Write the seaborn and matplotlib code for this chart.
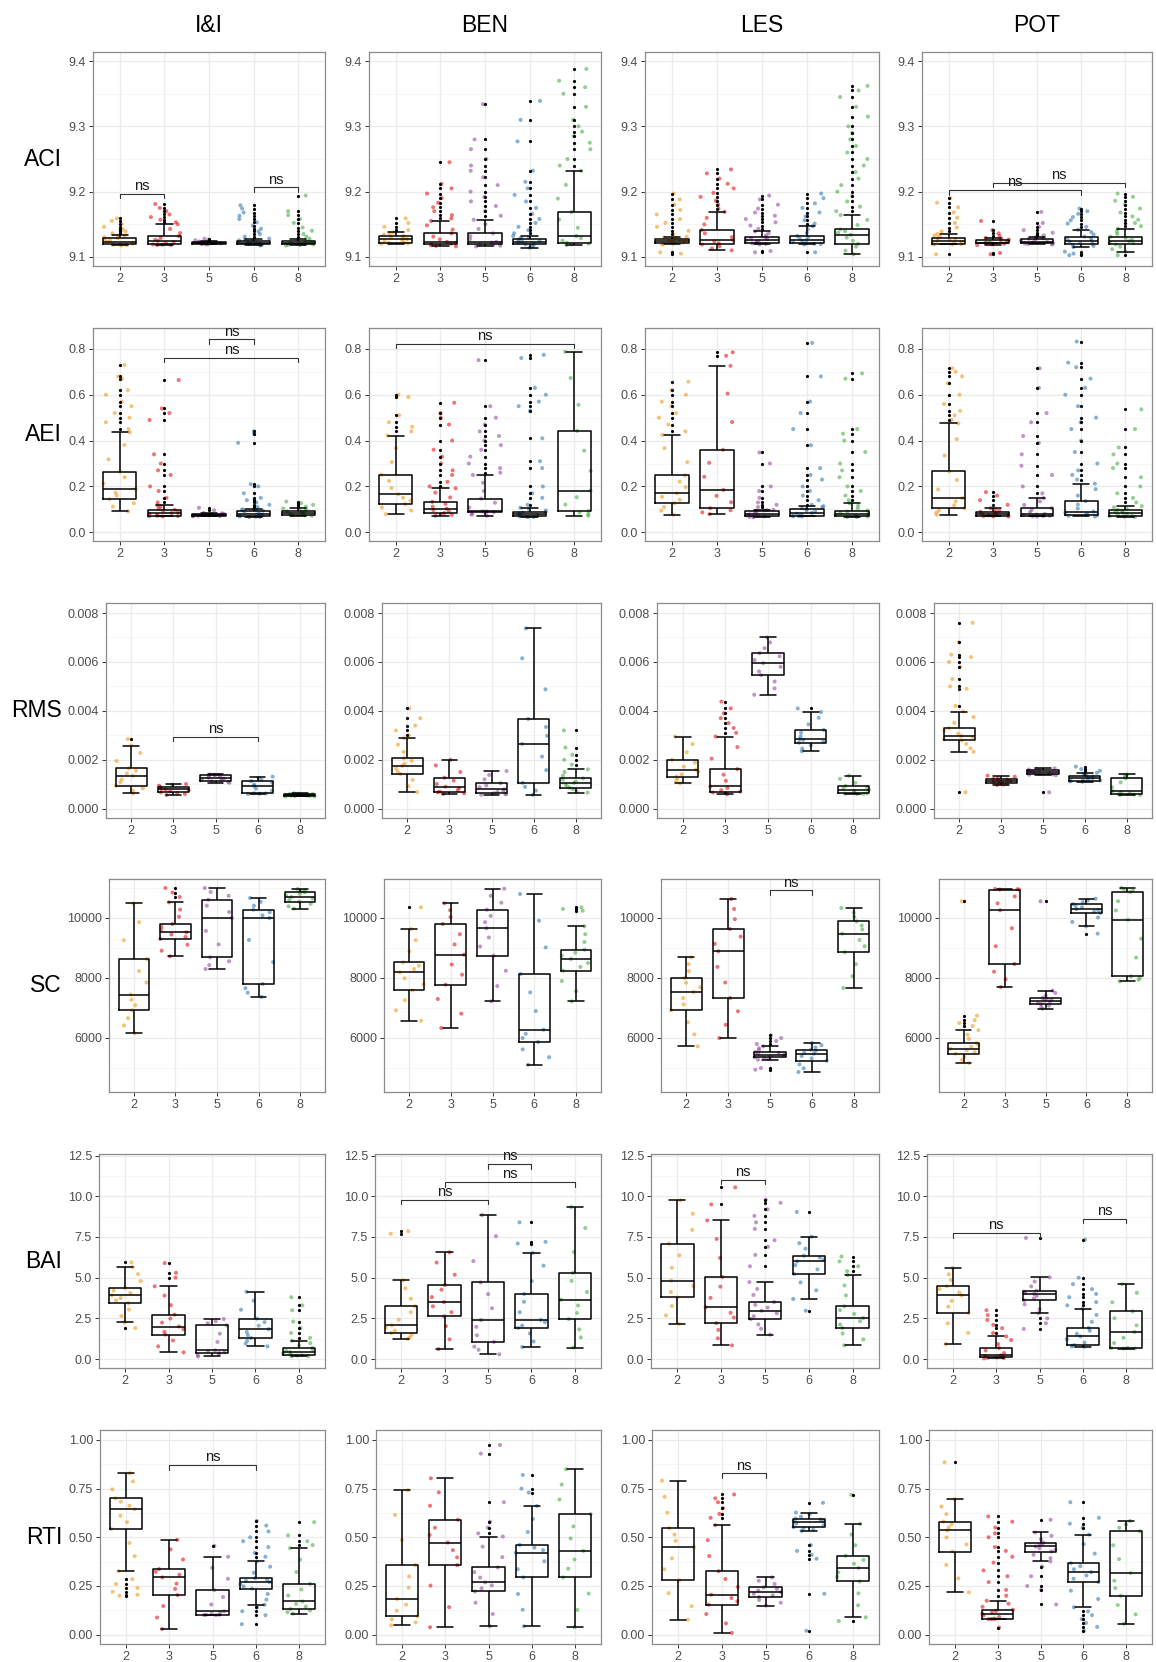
import numpy as np
import pandas as pd
import matplotlib
matplotlib.use("Agg")
import matplotlib.pyplot as plt
from matplotlib.ticker import FixedLocator
import seaborn as sns

# ---------------- categories ----------------
groups = ['2', '3', '5', '6', '8']
sites = ['I&I', 'BEN', 'LES', 'POT']
metrics = ['ACI', 'AEI', 'RMS', 'SC', 'BAI', 'RTI']
palette = {'2': '#F29A1E', '3': '#E41A1C', '5': '#984EA3', '6': '#377EB8', '8': '#4DAF4A'}

# ---------------- data ----------------
# each panel: one list per group (2,3,5,6,8) of values inside the whiskers,
# plus a list of outlying values per group
aci_ii = [
    [9.1175, 9.1181, 9.1186, 9.1190, 9.1203, 9.1219, 9.1230, 9.1248, 9.1266, 9.1287, 9.1301, 9.1318, 9.1330],
    [9.1180, 9.1183, 9.1188, 9.1190, 9.1212, 9.1228, 9.1246, 9.1262, 9.1290, 9.1318, 9.1365, 9.1428, 9.1500],
    [9.1190, 9.1194, 9.1198, 9.1200, 9.1203, 9.1208, 9.1210, 9.1215, 9.1219, 9.1225, 9.1229, 9.1234, 9.1240],
    [9.1175, 9.1180, 9.1186, 9.1190, 9.1196, 9.1204, 9.1210, 9.1219, 9.1231, 9.1240, 9.1252, 9.1266, 9.1280],
    [9.1175, 9.1179, 9.1185, 9.1190, 9.1198, 9.1203, 9.1210, 9.1221, 9.1229, 9.1240, 9.1249, 9.1263, 9.1280],
]
aci_ii_out = [
    [9.136, 9.139, 9.142, 9.146, 9.150, 9.155, 9.159],
    [9.153, 9.157, 9.161, 9.165, 9.170, 9.175, 9.181],
    [9.1255, 9.1265, 9.1277],
    [9.131, 9.135, 9.139, 9.143, 9.148, 9.153, 9.158, 9.163, 9.168, 9.174, 9.179],
    [9.131, 9.135, 9.140, 9.145, 9.152, 9.158, 9.164, 9.170, 9.194],
]
aci_ben = [
    [9.1200, 9.1206, 9.1213, 9.1220, 9.1236, 9.1255, 9.1270, 9.1286, 9.1303, 9.1320, 9.1341, 9.1356, 9.1374],
    [9.1160, 9.1168, 9.1179, 9.1190, 9.1204, 9.1216, 9.1230, 9.1268, 9.1312, 9.1360, 9.1418, 9.1483, 9.1550],
    [9.1160, 9.1171, 9.1180, 9.1190, 9.1201, 9.1219, 9.1230, 9.1272, 9.1318, 9.1360, 9.1428, 9.1502, 9.1570],
    [9.1140, 9.1158, 9.1176, 9.1190, 9.1204, 9.1216, 9.1230, 9.1243, 9.1262, 9.1280, 9.1294, 9.1306, 9.1320],
    [9.1180, 9.1191, 9.1202, 9.1215, 9.1248, 9.1287, 9.1320, 9.1446, 9.1572, 9.1687, 9.1893, 9.2104, 9.2320],
]
aci_ben_out = [
    [9.141, 9.146, 9.152, 9.159],
    [9.159, 9.164, 9.170, 9.176, 9.183, 9.190, 9.197, 9.205, 9.212, 9.245],
    [9.163, 9.170, 9.178, 9.185, 9.192, 9.200, 9.210, 9.222, 9.232, 9.240, 9.250, 9.265, 9.280, 9.334],
    [9.136, 9.141, 9.146, 9.152, 9.158, 9.166, 9.175, 9.185, 9.195, 9.205, 9.215, 9.232, 9.277, 9.310, 9.339],
    [9.240, 9.250, 9.265, 9.275, 9.285, 9.292, 9.300, 9.310, 9.330, 9.350, 9.360, 9.370, 9.388],
]
aci_les = [
    [9.1190, 9.1194, 9.1201, 9.1205, 9.1218, 9.1229, 9.1240, 9.1251, 9.1266, 9.1277, 9.1287, 9.1299, 9.1310],
    [9.1100, 9.1128, 9.1162, 9.1190, 9.1210, 9.1236, 9.1256, 9.1304, 9.1361, 9.1410, 9.1497, 9.1598, 9.1690],
    [9.1190, 9.1199, 9.1208, 9.1215, 9.1230, 9.1241, 9.1256, 9.1271, 9.1284, 9.1300, 9.1328, 9.1362, 9.1390],
    [9.1190, 9.1196, 9.1201, 9.1205, 9.1224, 9.1240, 9.1260, 9.1279, 9.1302, 9.1320, 9.1368, 9.1421, 9.1470],
    [9.1040, 9.1096, 9.1158, 9.1200, 9.1246, 9.1295, 9.1340, 9.1366, 9.1394, 9.1420, 9.1488, 9.1567, 9.1640],
]
aci_les_out = [
    [9.105, 9.107, 9.135, 9.140, 9.146, 9.152, 9.158, 9.165, 9.172, 9.180, 9.188, 9.197],
    [9.174, 9.180, 9.186, 9.192, 9.198, 9.205, 9.212, 9.220, 9.228, 9.234],
    [9.107, 9.109, 9.143, 9.148, 9.153, 9.158, 9.163, 9.168, 9.174, 9.180, 9.188, 9.194],
    [9.107, 9.151, 9.156, 9.162, 9.168, 9.175, 9.182, 9.190, 9.197],
    [9.170, 9.177, 9.185, 9.193, 9.200, 9.210, 9.220, 9.230, 9.240, 9.250, 9.260, 9.270, 9.280,
     9.290, 9.300, 9.315, 9.330, 9.345, 9.355, 9.362],
]
aci_pot = [
    [9.1190, 9.1193, 9.1198, 9.1200, 9.1216, 9.1231, 9.1246, 9.1259, 9.1274, 9.1287, 9.1309, 9.1328, 9.1350],
    [9.1180, 9.1191, 9.1199, 9.1205, 9.1209, 9.1216, 9.1220, 9.1231, 9.1245, 9.1256, 9.1266, 9.1279, 9.1290],
    [9.1190, 9.1196, 9.1201, 9.1205, 9.1212, 9.1223, 9.1230, 9.1247, 9.1262, 9.1277, 9.1284, 9.1293, 9.1300],
    [9.1150, 9.1168, 9.1184, 9.1200, 9.1216, 9.1234, 9.1250, 9.1271, 9.1289, 9.1310, 9.1343, 9.1381, 9.1415],
    [9.1080, 9.1118, 9.1157, 9.1190, 9.1208, 9.1224, 9.1240, 9.1262, 9.1288, 9.1310, 9.1352, 9.1388, 9.1430],
]
aci_pot_out = [
    [9.104, 9.139, 9.145, 9.152, 9.160, 9.168, 9.176, 9.183, 9.190],
    [9.104, 9.106, 9.132, 9.136, 9.141, 9.155],
    [9.133, 9.137, 9.141, 9.146, 9.152, 9.169],
    [9.1026, 9.105, 9.108, 9.146, 9.151, 9.156, 9.161, 9.166, 9.170, 9.174],
    [9.1026, 9.147, 9.152, 9.157, 9.162, 9.168, 9.174, 9.180, 9.186, 9.192, 9.197],
]

aei_ii = [
    [0.091, 0.112, 0.127, 0.144, 0.160, 0.173, 0.189, 0.213, 0.240, 0.264, 0.318, 0.381, 0.436],
    [0.069, 0.070, 0.071, 0.072, 0.076, 0.081, 0.084, 0.088, 0.093, 0.098, 0.103, 0.111, 0.117],
    [0.070, 0.0706, 0.0714, 0.072, 0.0731, 0.0739, 0.075, 0.0762, 0.0778, 0.079, 0.0806, 0.0824, 0.084],
    [0.066, 0.067, 0.068, 0.069, 0.072, 0.075, 0.078, 0.083, 0.089, 0.094, 0.096, 0.098, 0.100],
    [0.072, 0.0736, 0.0755, 0.077, 0.0795, 0.0824, 0.085, 0.0882, 0.0912, 0.094, 0.0975, 0.1006, 0.104],
]
aei_ii_out = [
    [0.45, 0.48, 0.50, 0.52, 0.55, 0.57, 0.60, 0.62, 0.67, 0.68, 0.73],
    [0.13, 0.15, 0.18, 0.20, 0.25, 0.27, 0.30, 0.34, 0.49, 0.52, 0.54, 0.664],
    [0.096, 0.107],
    [0.11, 0.12, 0.13, 0.14, 0.15, 0.17, 0.20, 0.21, 0.39, 0.43, 0.44],
    [0.112, 0.120, 0.127, 0.134],
]
aei_ben = [
    [0.079, 0.095, 0.109, 0.123, 0.138, 0.151, 0.166, 0.193, 0.224, 0.251, 0.306, 0.367, 0.422],
    [0.072, 0.076, 0.080, 0.084, 0.091, 0.097, 0.103, 0.112, 0.124, 0.133, 0.152, 0.173, 0.192],
    [0.072, 0.077, 0.082, 0.088, 0.089, 0.090, 0.091, 0.108, 0.129, 0.147, 0.180, 0.216, 0.250],
    [0.066, 0.067, 0.068, 0.069, 0.072, 0.075, 0.078, 0.082, 0.086, 0.0895, 0.095, 0.101, 0.107],
    [0.072, 0.079, 0.086, 0.0924, 0.121, 0.153, 0.182, 0.268, 0.356, 0.442, 0.556, 0.673, 0.787],
]
aei_ben_out = [
    [0.44, 0.46, 0.48, 0.51, 0.59, 0.60],
    [0.20, 0.22, 0.25, 0.27, 0.30, 0.33, 0.36, 0.40, 0.47, 0.50, 0.52, 0.565],
    [0.26, 0.28, 0.30, 0.33, 0.36, 0.38, 0.40, 0.42, 0.44, 0.47, 0.50, 0.55, 0.751],
    [0.12, 0.15, 0.17, 0.20, 0.28, 0.31, 0.41, 0.53, 0.55, 0.57, 0.60, 0.63, 0.76, 0.774],
    [],
]
aei_les = [
    [0.0765, 0.094, 0.110, 0.127, 0.142, 0.155, 0.170, 0.197, 0.221, 0.248, 0.306, 0.367, 0.425],
    [0.079, 0.087, 0.096, 0.105, 0.131, 0.159, 0.185, 0.242, 0.303, 0.360, 0.481, 0.605, 0.726],
    [0.066, 0.067, 0.068, 0.069, 0.072, 0.075, 0.078, 0.083, 0.089, 0.094, 0.0955, 0.0968, 0.098],
    [0.069, 0.070, 0.071, 0.072, 0.076, 0.081, 0.085, 0.090, 0.096, 0.101, 0.105, 0.110, 0.114],
    [0.066, 0.067, 0.068, 0.069, 0.073, 0.076, 0.080, 0.085, 0.090, 0.095, 0.104, 0.116, 0.126],
]
aei_les_out = [
    [0.44, 0.47, 0.50, 0.52, 0.55, 0.57, 0.60, 0.62, 0.657],
    [0.77, 0.785],
    [0.11, 0.12, 0.13, 0.15, 0.18, 0.20, 0.30, 0.348],
    [0.12, 0.14, 0.16, 0.18, 0.20, 0.23, 0.25, 0.28, 0.38, 0.45, 0.52, 0.57, 0.68, 0.826],
    [0.14, 0.16, 0.18, 0.20, 0.24, 0.27, 0.30, 0.35, 0.40, 0.43, 0.45, 0.67, 0.693],
]
aei_pot = [
    [0.0765, 0.086, 0.095, 0.104, 0.118, 0.135, 0.149, 0.187, 0.228, 0.266, 0.335, 0.406, 0.475],
    [0.069, 0.070, 0.071, 0.072, 0.074, 0.077, 0.079, 0.082, 0.086, 0.0895, 0.095, 0.100, 0.105],
    [0.069, 0.070, 0.071, 0.072, 0.075, 0.077, 0.080, 0.088, 0.097, 0.105, 0.119, 0.135, 0.149],
    [0.069, 0.0715, 0.074, 0.0765, 0.081, 0.086, 0.090, 0.104, 0.121, 0.136, 0.160, 0.188, 0.212],
    [0.066, 0.068, 0.070, 0.072, 0.076, 0.081, 0.085, 0.089, 0.094, 0.098, 0.103, 0.109, 0.114],
]
aei_pot_out = [
    [0.49, 0.51, 0.53, 0.56, 0.60, 0.65, 0.68, 0.70, 0.715],
    [0.12, 0.14, 0.16, 0.175],
    [0.17, 0.20, 0.25, 0.29, 0.34, 0.39, 0.42, 0.48, 0.52, 0.63, 0.715],
    [0.23, 0.25, 0.27, 0.30, 0.35, 0.40, 0.45, 0.48, 0.50, 0.55, 0.60, 0.63, 0.67, 0.72, 0.74, 0.832],
    [0.13, 0.15, 0.17, 0.20, 0.24, 0.28, 0.30, 0.34, 0.37, 0.45, 0.536],
]

# RMS lists are written in thousandths
RMS_UNIT = 1e-3
rms_ii = [
    [0.63, 0.74, 0.83, 0.94, 1.09, 1.20, 1.35, 1.44, 1.56, 1.65, 1.95, 2.28, 2.58],
    [0.56, 0.60, 0.64, 0.67, 0.71, 0.76, 0.79, 0.82, 0.87, 0.90, 0.94, 0.98, 1.01],
    [1.06, 1.09, 1.12, 1.15, 1.19, 1.23, 1.27, 1.30, 1.34, 1.38, 1.385, 1.39, 1.40],
    [0.60, 0.61, 0.62, 0.63, 0.74, 0.82, 0.93, 0.99, 1.07, 1.13, 1.19, 1.26, 1.31],
    [0.50, 0.505, 0.515, 0.52, 0.53, 0.54, 0.55, 0.56, 0.575, 0.59, 0.60, 0.615, 0.63],
]
rms_ii_out = [[2.85], [], [], [], []]
rms_ben = [
    [0.68, 0.92, 1.18, 1.42, 1.52, 1.64, 1.75, 1.84, 1.96, 2.06, 2.32, 2.62, 2.88],
    [0.60, 0.63, 0.67, 0.70, 0.76, 0.84, 0.90, 1.01, 1.15, 1.27, 1.50, 1.77, 2.00],
    [0.57, 0.59, 0.61, 0.63, 0.69, 0.73, 0.79, 0.88, 0.95, 1.04, 1.20, 1.38, 1.54],
    [0.57, 0.74, 0.89, 1.06, 1.58, 2.13, 2.65, 2.98, 3.34, 3.67, 4.88, 6.15, 7.37],
    [0.66, 0.72, 0.80, 0.86, 0.92, 1.00, 1.06, 1.11, 1.19, 1.24, 1.35, 1.50, 1.61],
]
rms_ben_out = [[3.0, 3.2, 3.4, 3.7, 4.1], [], [], [], [1.8, 2.0, 2.2, 2.5, 3.2]]
rms_les = [
    [1.04, 1.12, 1.23, 1.31, 1.40, 1.51, 1.60, 1.72, 1.88, 2.00, 2.31, 2.64, 2.95],
    [0.59, 0.63, 0.66, 0.70, 0.76, 0.85, 0.91, 1.14, 1.39, 1.62, 2.05, 2.52, 2.95],
    [4.66, 4.92, 5.20, 5.46, 5.61, 5.80, 5.95, 6.08, 6.23, 6.36, 6.56, 6.80, 7.00],
    [2.35, 2.46, 2.59, 2.70, 2.74, 2.81, 2.85, 2.96, 3.11, 3.22, 3.45, 3.72, 3.95],
    [0.60, 0.61, 0.62, 0.63, 0.67, 0.73, 0.77, 0.81, 0.89, 0.93, 1.06, 1.22, 1.35],
]
rms_les_out = [[], [3.1, 3.3, 3.5, 3.7, 3.9, 4.1, 4.38], [], [4.1], []]
rms_pot = [
    [2.33, 2.47, 2.65, 2.79, 2.84, 2.93, 2.98, 3.07, 3.20, 3.29, 3.51, 3.75, 3.97],
    [0.97, 0.99, 1.02, 1.04, 1.07, 1.10, 1.13, 1.16, 1.19, 1.22, 1.26, 1.31, 1.35],
    [1.37, 1.39, 1.40, 1.42, 1.45, 1.47, 1.50, 1.53, 1.55, 1.58, 1.60, 1.63, 1.65],
    [1.10, 1.12, 1.13, 1.15, 1.18, 1.21, 1.24, 1.27, 1.31, 1.34, 1.38, 1.43, 1.47],
    [0.56, 0.57, 0.58, 0.59, 0.63, 0.68, 0.72, 0.88, 1.08, 1.24, 1.29, 1.35, 1.40],
]
rms_pot_out = [[0.67, 4.2, 4.9, 5.0, 5.3, 5.8, 6.0, 6.2, 6.3, 6.8, 7.6], [], [0.67], [1.55, 1.62, 1.72], []]

sc_ii = [
    [6156, 6420, 6660, 6922, 7090, 7280, 7450, 7850, 8230, 8633, 9260, 9860, 10489],
    [8722, 8910, 9110, 9300, 9370, 9450, 9522, 9610, 9710, 9800, 10040, 10280, 10522],
    [8300, 8430, 8560, 8689, 9120, 9570, 10000, 10200, 10410, 10611, 10740, 10870, 11000],
    [7367, 7510, 7660, 7800, 8530, 9270, 10000, 10090, 10190, 10278, 10410, 10540, 10667],
    [10311, 10390, 10470, 10544, 10600, 10650, 10700, 10750, 10800, 10856, 10890, 10930, 10967],
]
sc_ii_out = [[], [10700, 10850, 11000], [], [], []]
sc_ben = [
    [6578, 6920, 7260, 7589, 7790, 7990, 8189, 8300, 8410, 8522, 8890, 9260, 9633],
    [6333, 6810, 7300, 7778, 8110, 8450, 8778, 9120, 9460, 9800, 10030, 10260, 10489],
    [7222, 7730, 8240, 8744, 9050, 9350, 9656, 9860, 10070, 10278, 10510, 10740, 10978],
    [5111, 5360, 5620, 5867, 6000, 6140, 6278, 6900, 7520, 8133, 9020, 9910, 10800],
    [7222, 7560, 7900, 8244, 8370, 8500, 8633, 8740, 8840, 8944, 9200, 9460, 9722],
]
sc_ben_out = [[10356], [], [], [], [10244, 10300, 10356]]
sc_les = [
    [5722, 6120, 6520, 6922, 7120, 7330, 7533, 7690, 7840, 8000, 8230, 8460, 8689],
    [6000, 6440, 6890, 7333, 7850, 8370, 8889, 9140, 9380, 9633, 9960, 10300, 10633],
    [5278, 5300, 5330, 5356, 5385, 5415, 5444, 5474, 5503, 5533, 5597, 5660, 5722],
    [4867, 4990, 5120, 5244, 5320, 5400, 5478, 5520, 5570, 5611, 5685, 5760, 5833],
    [7667, 8060, 8460, 8856, 9060, 9270, 9478, 9620, 9750, 9889, 10040, 10180, 10333],
]
sc_les_out = [[], [], [4944, 5000, 5800, 5900, 6000, 6089], [], []]
sc_pot = [
    [5167, 5270, 5380, 5478, 5530, 5590, 5644, 5710, 5770, 5833, 5970, 6110, 6256],
    [7700, 7960, 8210, 8467, 9060, 9660, 10256, 10490, 10720, 10944, 10950, 10960, 10967],
    [6978, 7030, 7080, 7133, 7170, 7210, 7244, 7274, 7303, 7333, 7415, 7500, 7578],
    [9722, 9870, 10020, 10167, 10210, 10260, 10300, 10360, 10410, 10467, 10530, 10590, 10644],
    [7889, 7940, 8000, 8056, 8680, 9310, 9944, 10250, 10560, 10867, 10910, 10960, 11000],
]
sc_pot_out = [[6400, 6500, 6600, 6744, 10556], [], [10556], [9478], []]

bai_ii = [
    [2.25, 2.64, 3.04, 3.44, 3.60, 3.75, 3.91, 4.06, 4.21, 4.36, 4.79, 5.22, 5.66],
    [0.41, 0.78, 1.14, 1.50, 1.67, 1.83, 2.00, 2.24, 2.49, 2.73, 3.31, 3.90, 4.47],
    [0.16, 0.23, 0.30, 0.37, 0.42, 0.48, 0.53, 1.05, 1.56, 2.07, 2.20, 2.33, 2.46],
    [0.78, 0.95, 1.12, 1.29, 1.47, 1.66, 1.84, 2.05, 2.27, 2.48, 3.03, 3.59, 4.14],
    [0.16, 0.18, 0.21, 0.23, 0.30, 0.36, 0.43, 0.51, 0.60, 0.68, 0.83, 0.98, 1.13],
]
bai_ii_out = [[1.9, 5.94], [5.0, 5.3, 5.9], [], [], [1.3, 1.6, 1.9, 2.3, 3.0, 3.3, 3.8]]
bai_ben = [
    [1.23, 1.33, 1.49, 1.60, 1.74, 1.93, 2.07, 2.41, 2.88, 3.24, 3.71, 4.35, 4.84],
    [0.61, 1.21, 2.02, 2.62, 2.88, 3.24, 3.50, 3.81, 4.26, 4.55, 5.18, 5.93, 6.56],
    [0.29, 0.57, 0.76, 1.05, 1.46, 1.98, 2.40, 3.12, 3.99, 4.71, 6.02, 7.55, 8.85],
    [0.74, 1.08, 1.57, 1.91, 2.05, 2.27, 2.40, 2.88, 3.52, 4.00, 4.79, 5.74, 6.52],
    [0.70, 1.33, 1.82, 2.46, 2.83, 3.29, 3.65, 4.12, 4.80, 5.29, 6.58, 8.05, 9.34],
]
bai_ben_out = [[7.7, 7.85], [], [], [7.1, 7.2, 8.4], []]
bai_les = [
    [2.17, 2.68, 3.26, 3.79, 4.12, 4.49, 4.82, 5.61, 6.37, 7.09, 7.94, 8.93, 9.75],
    [0.84, 1.27, 1.79, 2.21, 2.55, 2.84, 3.18, 3.76, 4.45, 5.04, 6.21, 7.38, 8.52],
    [1.50, 1.86, 2.13, 2.46, 2.63, 2.81, 2.97, 3.16, 3.33, 3.50, 3.94, 4.31, 4.73],
    [3.69, 4.22, 4.71, 5.23, 5.51, 5.77, 6.00, 6.11, 6.24, 6.35, 6.78, 7.12, 7.52],
    [0.84, 1.21, 1.57, 1.91, 2.12, 2.33, 2.52, 2.77, 3.01, 3.24, 3.91, 4.52, 5.16],
]
bai_les_out = [[], [9.5, 10.55], [5.7, 6.4, 6.9, 7.3, 8.0, 8.4, 8.8, 9.2, 9.6, 9.8], [2.97, 9.04], [5.4, 5.7, 6.0, 6.3]]
bai_pot = [
    [0.92, 1.61, 2.19, 2.83, 3.22, 3.57, 3.91, 4.09, 4.30, 4.47, 4.86, 5.21, 5.59],
    [0.04, 0.06, 0.08, 0.10, 0.14, 0.19, 0.23, 0.37, 0.53, 0.68, 0.92, 1.17, 1.39],
    [2.83, 3.07, 3.36, 3.60, 3.73, 3.88, 4.00, 4.06, 4.14, 4.20, 4.47, 4.76, 5.02],
    [0.75, 0.78, 0.82, 0.85, 1.01, 1.22, 1.39, 1.55, 1.74, 1.91, 2.29, 2.71, 3.09],
    [0.64, 0.65, 0.67, 0.68, 0.98, 1.31, 1.66, 2.07, 2.51, 2.93, 3.49, 4.07, 4.60],
]
bai_pot_out = [[], [1.6, 1.9, 2.1, 2.4, 2.7, 3.0], [1.85, 2.2, 2.5, 7.44], [3.3, 3.5, 3.8, 4.0, 4.3, 4.6, 5.0, 7.34], []]

rti_ii = [
    [0.326, 0.403, 0.471, 0.543, 0.578, 0.611, 0.644, 0.662, 0.683, 0.700, 0.746, 0.787, 0.829],
    [0.029, 0.088, 0.147, 0.203, 0.235, 0.262, 0.294, 0.308, 0.323, 0.337, 0.386, 0.438, 0.487],
    [0.100, 0.101, 0.102, 0.1025, 0.108, 0.114, 0.120, 0.155, 0.193, 0.229, 0.287, 0.343, 0.400],
    [0.154, 0.180, 0.209, 0.236, 0.248, 0.259, 0.270, 0.277, 0.284, 0.290, 0.318, 0.349, 0.376],
    [0.108, 0.116, 0.124, 0.1316, 0.144, 0.158, 0.171, 0.201, 0.232, 0.261, 0.322, 0.385, 0.444],
]
rti_ii_out = [[0.20, 0.205, 0.22, 0.24, 0.26, 0.285], [], [0.456],
              [0.054, 0.10, 0.12, 0.14, 0.40, 0.42, 0.45, 0.48, 0.50, 0.53, 0.56, 0.584],
              [0.46, 0.48, 0.51, 0.578]]
rti_ben = [
    [0.048, 0.063, 0.079, 0.094, 0.123, 0.154, 0.183, 0.241, 0.299, 0.357, 0.486, 0.615, 0.742],
    [0.038, 0.141, 0.252, 0.357, 0.397, 0.434, 0.473, 0.512, 0.549, 0.590, 0.662, 0.731, 0.803],
    [0.043, 0.106, 0.164, 0.222, 0.238, 0.253, 0.268, 0.293, 0.321, 0.345, 0.398, 0.452, 0.504],
    [0.043, 0.128, 0.209, 0.294, 0.336, 0.377, 0.420, 0.434, 0.447, 0.461, 0.527, 0.594, 0.661],
    [0.038, 0.127, 0.211, 0.294, 0.339, 0.386, 0.430, 0.494, 0.556, 0.619, 0.694, 0.771, 0.849],
]
rti_ben_out = [[], [], [0.52, 0.55, 0.58, 0.68, 0.93, 0.974], [0.73, 0.75, 0.82], []]
rti_les = [
    [0.077, 0.146, 0.213, 0.279, 0.336, 0.392, 0.449, 0.482, 0.514, 0.547, 0.626, 0.708, 0.791],
    [0.009, 0.058, 0.106, 0.154, 0.171, 0.188, 0.205, 0.245, 0.286, 0.326, 0.404, 0.485, 0.562],
    [0.149, 0.164, 0.178, 0.193, 0.202, 0.210, 0.219, 0.227, 0.235, 0.243, 0.260, 0.277, 0.294],
    [0.533, 0.539, 0.546, 0.552, 0.562, 0.571, 0.581, 0.586, 0.591, 0.596, 0.606, 0.617, 0.627],
    [0.089, 0.151, 0.212, 0.273, 0.297, 0.320, 0.343, 0.364, 0.384, 0.405, 0.459, 0.514, 0.569],
]
rti_les_out = [[], [0.60, 0.62, 0.65, 0.68, 0.70, 0.72], [], [0.02, 0.21, 0.39, 0.41, 0.43, 0.46, 0.677], [0.07, 0.718]]
rti_pot = [
    [0.217, 0.289, 0.358, 0.427, 0.463, 0.499, 0.535, 0.551, 0.566, 0.581, 0.619, 0.658, 0.696],
    [0.080, 0.0806, 0.0813, 0.082, 0.091, 0.099, 0.108, 0.114, 0.121, 0.128, 0.143, 0.159, 0.174],
    [0.376, 0.393, 0.410, 0.427, 0.436, 0.444, 0.453, 0.459, 0.466, 0.473, 0.490, 0.508, 0.525],
    [0.140, 0.183, 0.226, 0.270, 0.287, 0.304, 0.321, 0.336, 0.352, 0.367, 0.416, 0.465, 0.514],
    [0.056, 0.104, 0.152, 0.200, 0.239, 0.277, 0.316, 0.388, 0.459, 0.531, 0.549, 0.566, 0.584],
]
rti_pot_out = [[0.885],
               [0.036, 0.20, 0.23, 0.27, 0.30, 0.33, 0.37, 0.40, 0.43, 0.45, 0.50, 0.52, 0.55, 0.58, 0.607],
               [0.155, 0.23, 0.25, 0.30, 0.35, 0.59],
               [0.02, 0.04, 0.06, 0.08, 0.10, 0.12, 0.55, 0.57, 0.60, 0.68],
               []]

# significance comparisons: (metric, site, group a, group b, label, bracket height)
ns_brackets = [
    ('ACI', 'I&I', '2', '3', 'ns', 9.197),
    ('ACI', 'I&I', '6', '8', 'ns', 9.2067),
    ('ACI', 'POT', '2', '6', 'ns', 9.2026),
    ('ACI', 'POT', '3', '8', 'ns', 9.2138),
    ('AEI', 'I&I', '5', '6', 'ns', 0.842),
    ('AEI', 'I&I', '3', '8', 'ns', 0.762),
    ('AEI', 'BEN', '2', '8', 'ns', 0.823),
    ('RMS', 'I&I', '3', '6', 'ns', 0.00295),
    ('SC', 'LES', '5', '6', 'ns', 10922),
    ('BAI', 'BEN', '5', '6', 'ns', 11.99),
    ('BAI', 'BEN', '3', '8', 'ns', 10.88),
    ('BAI', 'BEN', '2', '5', 'ns', 9.80),
    ('BAI', 'LES', '3', '5', 'ns', 11.02),
    ('BAI', 'POT', '2', '5', 'ns', 7.75),
    ('BAI', 'POT', '6', '8', 'ns', 8.63),
    ('RTI', 'I&I', '3', '6', 'ns', 0.871),
    ('RTI', 'LES', '3', '5', 'ns', 0.829),
]

core_data = {
    'ACI': [aci_ii, aci_ben, aci_les, aci_pot],
    'AEI': [aei_ii, aei_ben, aei_les, aei_pot],
    'RMS': [rms_ii, rms_ben, rms_les, rms_pot],
    'SC': [sc_ii, sc_ben, sc_les, sc_pot],
    'BAI': [bai_ii, bai_ben, bai_les, bai_pot],
    'RTI': [rti_ii, rti_ben, rti_les, rti_pot],
}
out_data = {
    'ACI': [aci_ii_out, aci_ben_out, aci_les_out, aci_pot_out],
    'AEI': [aei_ii_out, aei_ben_out, aei_les_out, aei_pot_out],
    'RMS': [rms_ii_out, rms_ben_out, rms_les_out, rms_pot_out],
    'SC': [sc_ii_out, sc_ben_out, sc_les_out, sc_pot_out],
    'BAI': [bai_ii_out, bai_ben_out, bai_les_out, bai_pot_out],
    'RTI': [rti_ii_out, rti_ben_out, rti_les_out, rti_pot_out],
}
units = {'RMS': RMS_UNIT}

# ---------------- axis set-up ----------------
y_axis = {
    'ACI': dict(lim=(9.086, 9.414), ticks=[9.1, 9.2, 9.3, 9.4], labels=['9.1', '9.2', '9.3', '9.4'],
                minor=[9.15, 9.25, 9.35]),
    'AEI': dict(lim=(-0.038, 0.891), ticks=[0, 0.2, 0.4, 0.6, 0.8], labels=['0.0', '0.2', '0.4', '0.6', '0.8'],
                minor=[0.1, 0.3, 0.5, 0.7]),
    'RMS': dict(lim=(-0.00038, 0.00841), ticks=[0, 0.002, 0.004, 0.006, 0.008],
                labels=['0.000', '0.002', '0.004', '0.006', '0.008'], minor=[0.001, 0.003, 0.005, 0.007]),
    'SC': dict(lim=(4200, 11300), ticks=[6000, 8000, 10000], labels=['6000', '8000', '10000'],
               minor=[5000, 7000, 9000, 11000]),
    'BAI': dict(lim=(-0.55, 12.6), ticks=[0, 2.5, 5, 7.5, 10, 12.5],
                labels=['0.0', '2.5', '5.0', '7.5', '10.0', '12.5'], minor=[1.25, 3.75, 6.25, 8.75, 11.25]),
    'RTI': dict(lim=(-0.048, 1.051), ticks=[0, 0.25, 0.5, 0.75, 1.0],
                labels=['0.00', '0.25', '0.50', '0.75', '1.00'], minor=[0.125, 0.375, 0.625, 0.875]),
}

sns.set_theme(style='white')
plt.rcParams['font.family'] = ['Liberation Sans', 'DejaVu Sans']
np.random.seed(3)

W, H = 1156, 1662
fig = plt.figure(figsize=(W / 100, H / 100), dpi=100)
fig.patch.set_facecolor('white')

row_tb = [(52, 266), (328, 541), (603, 818), (879, 1092), (1154, 1368), (1430, 1644)]
col_left = [[93, 369, 645, 922], [93, 369, 645, 922], [106, 382, 657, 934],
            [109, 384, 661, 939], [99, 375, 651, 927], [100, 376, 652, 929]]
col_right = [325, 601, 879, 1152]

axes = {}
for i, m in enumerate(metrics):
    top, bot = row_tb[i]
    unit = units.get(m, 1.0)
    for j, s in enumerate(sites):
        l, r = col_left[i][j], col_right[j]
        ax = fig.add_axes([l / W, 1 - bot / H, (r - l) / W, (bot - top) / H])
        axes[(m, s)] = ax
        core = core_data[m][j]
        outs = out_data[m][j]
        df_core = pd.DataFrame({
            'g': np.repeat(groups, [len(v) for v in core]),
            'v': np.concatenate([np.asarray(v, float) for v in core]) * unit,
        })
        out_vals = [np.asarray(v, float) for v in outs]
        df_out = pd.DataFrame({
            'g': np.repeat(groups, [len(v) for v in outs]),
            'v': (np.concatenate(out_vals) if sum(len(v) for v in outs) else np.array([])) * unit,
        })
        df_all = pd.concat([df_core, df_out], ignore_index=True)

        sns.stripplot(data=df_all, x='g', y='v', hue='g', order=groups, hue_order=groups,
                      palette=palette, jitter=0.37, size=2.9, alpha=0.6, linewidth=0,
                      legend=False, ax=ax, zorder=1)
        sns.boxplot(data=df_core, x='g', y='v', order=groups, color='black', fill=False,
                    width=0.74, whis=(0, 100), linewidth=1.1, showfliers=False, ax=ax)
        if len(df_out):
            sns.stripplot(data=df_out, x='g', y='v', order=groups, color='black', jitter=False,
                          size=2.3, linewidth=0, ax=ax, zorder=3)

        cfg = y_axis[m]
        ax.set_xlim(-0.6, 4.6)
        ax.set_ylim(*cfg['lim'])
        ax.set_yticks(cfg['ticks'])
        ax.set_yticklabels(cfg['labels'])
        ax.yaxis.set_minor_locator(FixedLocator(cfg['minor']))
        ax.set_xticks(range(len(groups)))
        ax.set_xticklabels(groups)
        ax.set_xlabel('')
        ax.set_ylabel('')
        ax.set_facecolor('white')
        ax.set_axisbelow(True)
        ax.grid(True, which='major', axis='both', color='#EBEBEB', linewidth=0.9)
        ax.grid(True, which='minor', axis='y', color='#F3F3F3', linewidth=0.5)
        ax.tick_params(axis='both', which='major', length=3, width=0.7, color='#333333',
                       labelsize=9, labelcolor='#4D4D4D', pad=2, left=True, bottom=True)
        ax.tick_params(axis='both', which='minor', length=0)
        for sp in ax.spines.values():
            sp.set_visible(True)
            sp.set_color('#8C8C8C')
            sp.set_linewidth(0.9)

# significance brackets
for (m, s, g1, g2, lab, yv) in ns_brackets:
    ax = axes[(m, s)]
    x1, x2 = groups.index(g1), groups.index(g2)
    y0, y1 = y_axis[m]['lim']
    tip = 0.022 * (y1 - y0)
    ax.plot([x1, x1, x2, x2], [yv - tip, yv, yv, yv - tip], color='#333333', lw=0.8, zorder=4)
    ax.text((x1 + x2) / 2, yv + 0.003 * (y1 - y0), lab, ha='center', va='bottom',
            fontsize=10.5, color='#1A1A1A', zorder=5)

# column headers and row labels
for j, s in enumerate(sites):
    cx = (col_left[0][j] + col_right[j]) / 2
    fig.text(cx / W, 1 - 25 / H, s, ha='center', va='center', fontsize=16.5, color='black')
for i, m in enumerate(metrics):
    top, bot = row_tb[i]
    fig.text(62 / W, 1 - ((top + bot) / 2) / H, m, ha='right', va='center', fontsize=16.5, color='black')

fig.savefig('out.png', dpi=100, facecolor='white')
